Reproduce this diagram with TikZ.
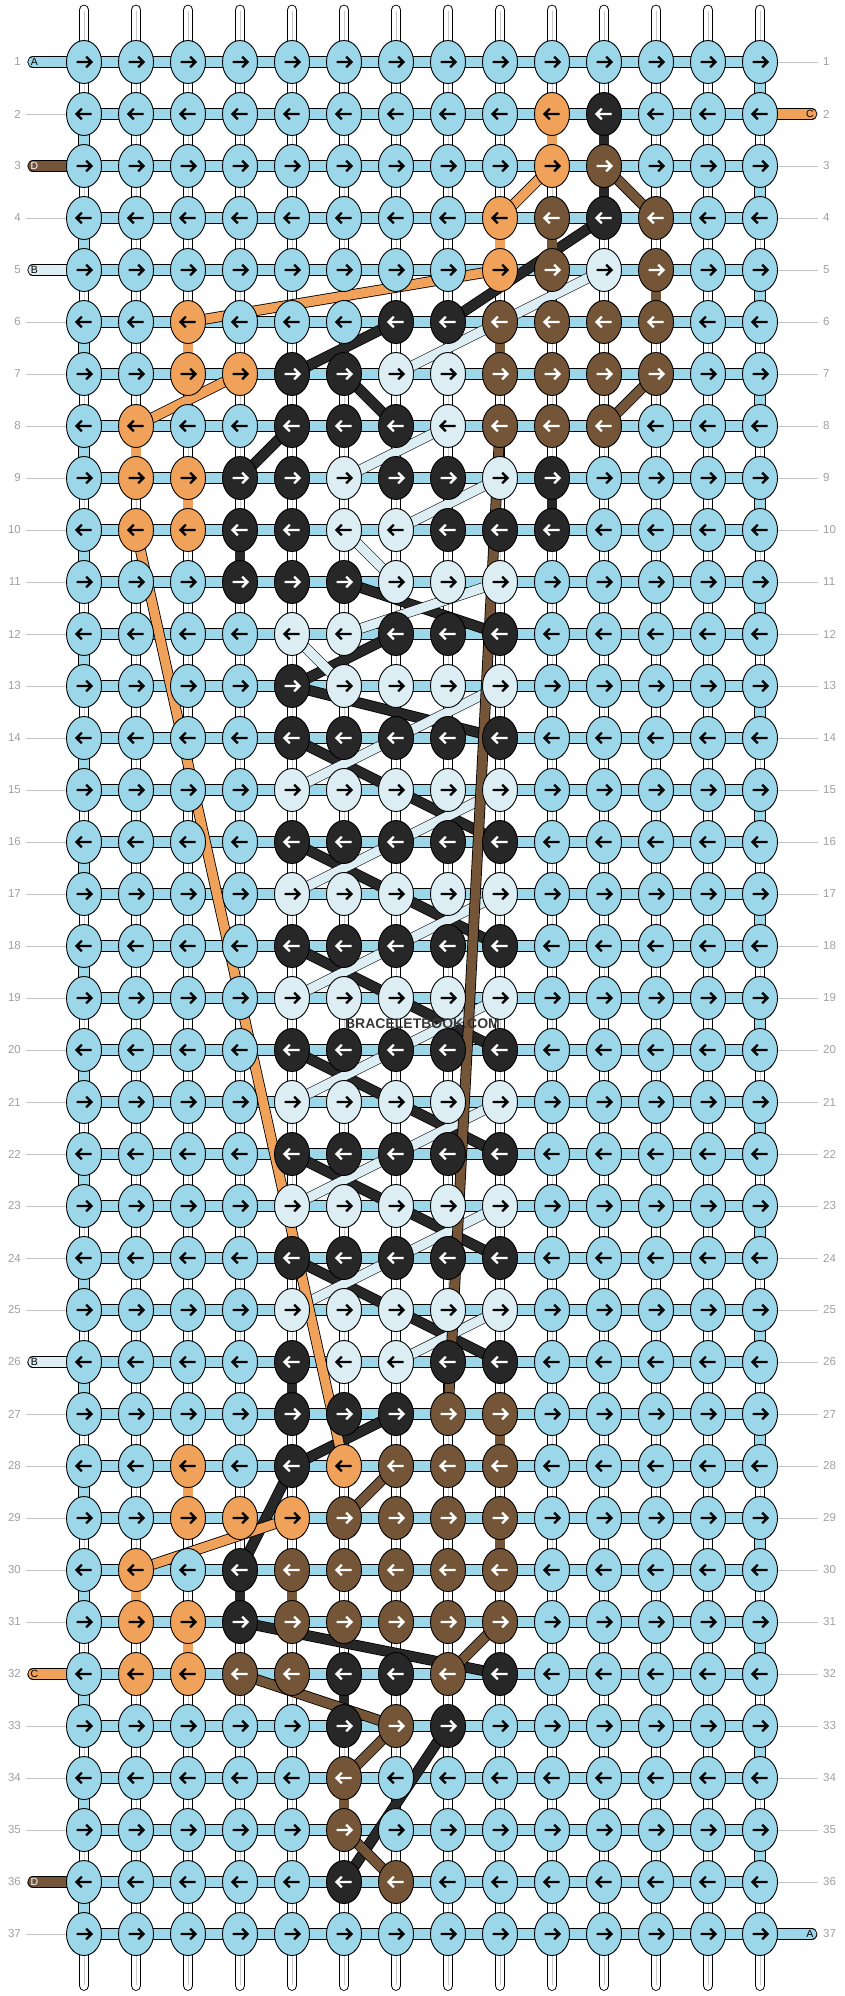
\documentclass[tikz,border=0pt]{standalone}
\usepackage{fontspec}
\setmainfont{Liberation Sans}
\usetikzlibrary{shapes.geometric}
\pgfdeclarelayer{bgl}\pgfdeclarelayer{strs}\pgfdeclarelayer{bands}\pgfdeclarelayer{lines}
\pgfsetlayers{bgl,strs,bands,lines,main}
\definecolor{cL}{HTML}{9BD7E9}
\definecolor{cW}{HTML}{DCEEF3}
\definecolor{cK}{HTML}{272727}
\definecolor{cN}{HTML}{755538}
\definecolor{cO}{HTML}{F0A25A}
\definecolor{numgray}{HTML}{A0A0A0}
\definecolor{guidegray}{HTML}{C4C4C4}
\def\acK{white}\def\acN{white}\def\acL{black}\def\acW{black}\def\acO{black}
\newcommand\setk[3]{\expandafter\xdef\csname kc#1x#2\endcsname{#3}}
\newcommand\setrow[2]{\foreach \cc/\kq in {#2}{\setk{#1}{\cc}{\kq}}}
\setrow{2}{10/O,11/K}
\setrow{3}{10/O,11/N}
\setrow{4}{9/O,10/N,11/K,12/N}
\setrow{5}{9/O,10/N,11/W,12/N}
\setrow{6}{3/O,7/K,8/K,9/N,10/N,11/N,12/N}
\setrow{7}{3/O,4/O,5/K,6/K,7/W,8/W,9/N,10/N,11/N,12/N}
\setrow{8}{2/O,5/K,6/K,7/K,8/W,9/N,10/N,11/N}
\setrow{9}{2/O,3/O,4/K,5/K,6/W,7/K,8/K,9/W,10/K}
\setrow{10}{2/O,3/O,4/K,5/K,6/W,7/W,8/K,9/K,10/K}
\setrow{11}{4/K,5/K,6/K,7/W,8/W,9/W}
\setrow{12}{5/W,6/W,7/K,8/K,9/K}
\setrow{13}{5/K,6/W,7/W,8/W,9/W}
\foreach \rr in {14,16,...,24}{\setrow{\rr}{5/K,6/K,7/K,8/K,9/K}}
\foreach \rr in {15,17,...,25}{\setrow{\rr}{5/W,6/W,7/W,8/W,9/W}}
\setrow{26}{5/K,6/W,7/W,8/K,9/K}
\setrow{27}{5/K,6/K,7/K,8/N,9/N}
\setrow{28}{3/O,5/K,6/O,7/N,8/N,9/N}
\setrow{29}{3/O,4/O,5/O,6/N,7/N,8/N,9/N}
\setrow{30}{2/O,4/K,5/N,6/N,7/N,8/N,9/N}
\setrow{31}{2/O,3/O,4/K,5/N,6/N,7/N,8/N,9/N}
\setrow{32}{2/O,3/O,4/N,5/N,6/K,7/K,8/N,9/K}
\setrow{33}{6/K,7/N,8/K}
\setrow{34}{6/N}
\setrow{35}{6/N}
\setrow{36}{6/K,7/N}
\begin{document}
\begin{tikzpicture}[x=1pt,y=-1pt,
  knot/.style={ellipse, draw=black, line width=0.9pt, minimum width=35pt, minimum height=43pt, inner sep=0pt},
  arrw/.style={line width=2.3pt, line join=miter},
  vstr/.style={draw=black, line width=0.9pt, double=white, double distance=8.9pt, line cap=round},
  vmid/.style={draw=black!22, line width=0.7pt},
  hband/.style={draw=black, line width=0.9pt, double=cL, double distance=9.5pt},
  kline/.style={draw=black, line width=0.8pt, double=cK, double distance=9.2pt},
  wline/.style={draw=black, line width=0.6pt, double=cW, double distance=9.2pt},
  oline/.style={draw=black, line width=0.8pt, double=cO, double distance=9.2pt},
  nline/.style={draw=black, line width=0.8pt, double=cN, double distance=9.2pt},
  guide/.style={draw=guidegray, line width=0.8pt},
  num/.style={font=\fontsize{11.5}{12}\selectfont, text=numgray, inner sep=0pt},
  lbl/.style={font=\fontsize{10.5}{11}\selectfont, inner sep=0pt},
  wm/.style={font=\bfseries\fontsize{14}{14}\selectfont, text=black!78, inner sep=0pt}]
\begin{pgfonlayer}{bgl}\fill[white] (0,0) rectangle (844,1996);\end{pgfonlayer}
\useasboundingbox (0,0) rectangle (844,1996);
% knots
\foreach \r in {1,...,37}{\foreach \c in {1,...,14}{
  \ifcsname kc\r x\c\endcsname\edef\kk{\csname kc\r x\c\endcsname}\else\def\kk{L}\fi
  \edef\ac{\csname ac\kk\endcsname}
  \pgfmathsetmacro\X{84+52*(\c-1)}
  \pgfmathsetmacro\Y{62+52*(\r-1)}
  \pgfmathsetmacro\D{ifthenelse(mod(\r,2)==1,1,-1)}
  \pgfmathsetmacro\xa{\X-7.5*(\D)}
  \pgfmathsetmacro\xb{\X+7.5*(\D)}
  \pgfmathsetmacro\xh{\X+2.2*(\D)}
  \node[knot, fill=c\kk] (k\r-\c) at (\X,\Y) {};
  \draw[arrw, draw=\ac] (\xa,\Y) -- (\xb,\Y) (\xh,\Y-5.3) -- (\xb,\Y) -- (\xh,\Y+5.3);
}}
% vertical base strings
\begin{pgfonlayer}{strs}
\foreach \c in {1,...,14}{
  \pgfmathsetmacro\X{84+52*(\c-1)}
  \coordinate (st\c) at (\X,10);
  \coordinate (sb\c) at (\X,1985.5);
  \draw[vstr] (st\c) -- (sb\c);
  \draw[vmid, shorten <=1pt, shorten >=1pt] (st\c) -- (sb\c);
}
\end{pgfonlayer}
% horizontal working string
\begin{pgfonlayer}{bands}
\foreach \r in {1,...,37}{\draw[hband] (k\r-1.center) -- (k\r-14.center);}
\foreach \r in {1,3,...,35}{\pgfmathtruncatemacro\rn{\r+1}\draw[hband] (k\r-14.center) -- (k\rn-14.center);}
\foreach \r in {2,4,...,36}{\pgfmathtruncatemacro\rn{\r+1}\draw[hband] (k\r-1.center) -- (k\rn-1.center);}
\foreach \r/\cl/\lt/\tc in {1/cL/A/black,3/cN/D/white,5/cW/B/black,26/cW/B/black,32/cO/C/black,36/cN/D/white}{
  \pgfmathsetmacro\Y{62+52*(\r-1)}
  \coordinate (sl\r) at (33,\Y);
  \draw[hband, double=\cl, line cap=round] (sl\r) -- (k\r-1.center);
  \node[lbl, text=\tc] (labl\r) at (34.3,\Y) {\lt};
}
\foreach \r/\cl/\lt/\tc in {2/cO/C/black,37/cL/A/black}{
  \pgfmathsetmacro\Y{62+52*(\r-1)}
  \coordinate (sr\r) at (811.7,\Y);
  \draw[hband, double=\cl, line cap=round] (k\r-14.center) -- (sr\r);
  \node[lbl, text=\tc] (labr\r) at (809.8,\Y) {\lt};
}
\end{pgfonlayer}
% guide lines and row numbers
\foreach \r in {2,4,6,7,8,9,10,11,12,13,14,15,16,17,18,19,20,21,22,23,24,25,27,28,29,30,31,33,34,35,37}{
  \pgfmathsetmacro\Y{62+52*(\r-1)}
  \coordinate (gl\r) at (26,\Y);
  \draw[guide] (gl\r) -- (k\r-1);
}
\foreach \r in {1,3,4,...,36}{
  \pgfmathsetmacro\Y{62+52*(\r-1)}
  \coordinate (gr\r) at (818,\Y);
  \draw[guide] (k\r-14) -- (gr\r);
}
\foreach \r in {1,...,37}{
  \pgfmathsetmacro\Y{62+52*(\r-1)}
  \node[num, anchor=east] (nl\r) at (21,\Y) {\r};
  \node[num, anchor=west] (nr\r) at (823,\Y) {\r};
}
% coloured strings
\begin{pgfonlayer}{lines}
\foreach \a/\b in {2-11/4-11,4-11/6-8,6-7/7-5,7-6/8-7,8-5/9-4,9-10/10-10,10-4/11-4,11-6/12-9,12-7/13-5,13-5/14-9,
  26-5/27-5,27-7/28-5,28-5/30-4,30-4/31-4,31-4/32-9,32-6/33-6,33-8/36-6}
  {\draw[kline] (k\a.center) -- (k\b.center);}
\foreach \r in {14,16,...,24}{\pgfmathtruncatemacro\rn{\r+2}\draw[kline] (k\r-5.center) -- (k\rn-9.center);}
\foreach \a/\b in {5-11/7-7,8-8/9-6,9-9/10-7,10-6/11-7,11-9/12-6,12-5/13-6,25-9/26-7}
  {\draw[wline] (k\a.center) -- (k\b.center);}
\foreach \r in {13,15,...,23}{\pgfmathtruncatemacro\rn{\r+2}\draw[wline] (k\r-9.center) -- (k\rn-5.center);}
\foreach \a/\b in {2-10/3-10,3-10/4-9,4-9/5-9,5-9/6-3,6-3/7-3,7-4/8-2,8-2/9-2,9-3/10-3,10-2/28-6,
  28-3/29-3,29-5/30-2,30-2/31-2,31-3/32-3}
  {\draw[oline] (k\a.center) -- (k\b.center);}
\foreach \a/\b in {3-11/4-12,4-10/5-10,5-12/6-12,6-9/7-9,7-12/8-11,8-9/27-8,27-9/28-9,28-7/29-6,29-9/30-9,
  30-5/31-5,31-9/32-8,32-4/33-7,33-7/34-6,34-6/35-6,35-6/36-7}
  {\draw[nline] (k\a.center) -- (k\b.center);}
\end{pgfonlayer}
\node[wm] (wm) at (422.5,1023.5) {BRACELETBOOK.COM};
\end{tikzpicture}
\end{document}
